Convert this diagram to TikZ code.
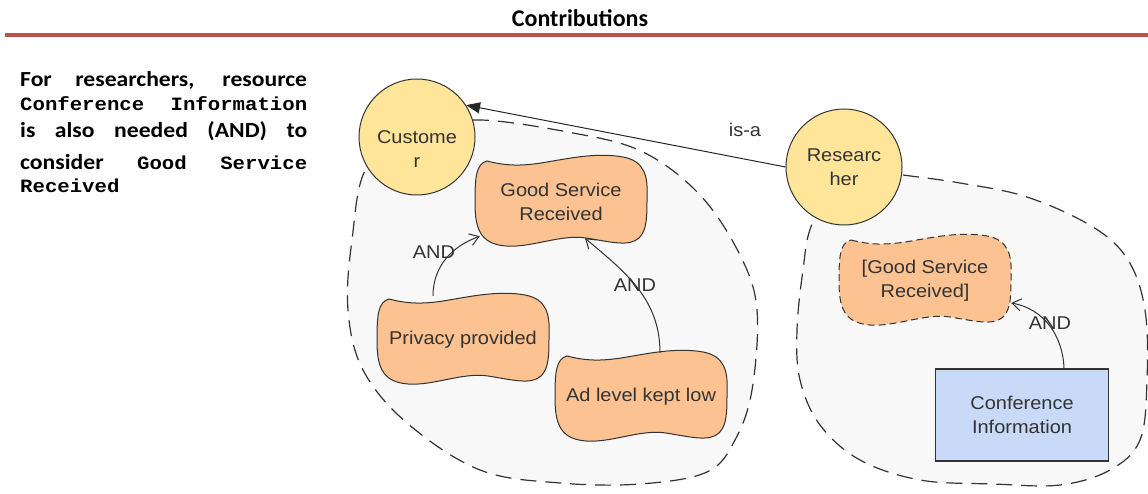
\documentclass[tikz,border=0pt]{standalone}
\usepackage{fontspec}
\setmainfont{Carlito}[FakeStretch=1.1]
\newfontfamily\codefont{Liberation Mono}[FakeStretch=1.1]
\newfontfamily\drawfont{Liberation Sans}[FakeStretch=1.08]
\newfontfamily\titlefont{Carlito}
\usepackage{xcolor}
\usepackage{tikz}
\usetikzlibrary{positioning, arrows.meta, calc}
\definecolor{crule}{HTML}{C0504D}
\definecolor{cregion}{HTML}{F8F8F8}
\definecolor{cactor}{HTML}{FFE599}
\definecolor{csoft}{HTML}{FCC291}
\definecolor{cres}{HTML}{C9DAF8}
\definecolor{cink}{HTML}{333333}
\newcommand{\diagfont}{\drawfont\fontsize{18.5}{24}\selectfont}
\newcommand{\codesmall}{\codefont\fontsize{18.8}{25}\selectfont}
\tikzset{
  region/.style={draw=cink, fill=cregion, dash pattern=on 16pt off 9pt, line width=1.2pt},
  actor/.style={circle, draw=cink, fill=cactor, line width=1pt, minimum size=116pt,
                inner sep=0pt, align=center, font=\diagfont, text=cink},
  goal/.style={minimum width=172pt, minimum height=88pt, inner sep=0pt, align=center,
               font=\diagfont, text=cink},
  resrc/.style={draw=cink, fill=cres, line width=1.5pt, minimum width=173pt,
                minimum height=92pt, align=center, font=\diagfont, text=cink},
  lbl/.style={font=\diagfont, text=cink, inner sep=1pt},
  note/.style={anchor=base west, inner sep=0pt, font=\bfseries\fontsize{21.5}{25}\selectfont},
  andarr/.style={draw=cink, line width=1pt, -{Straight Barb[length=9pt,width=12pt]}},
  isaarr/.style={draw=black!85, line width=1pt, -{Triangle[length=14pt,width=11pt]}},
  softgoal/.pic={
    \path[draw=cink, fill=csoft, line width=1pt, pic actions]
      (-74,-41) .. controls (-55,-36) and (-40,-36) .. (-20,-39)
      .. controls (5,-43) and (35,-50) .. (62,-45)
      .. controls (84,-41) and (87,-25) .. (86,-5)
      .. controls (86,15) and (86,28) .. (78,36)
      .. controls (68,45) and (50,40) .. (25,36)
      .. controls (0,32) and (-30,46) .. (-55,44)
      .. controls (-82,42) and (-86,25) .. (-86,0)
      .. controls (-86,-25) and (-85,-38) .. (-74,-41) -- cycle;
  },
}
\begin{document}
\begin{tikzpicture}[x=1pt, y=-1pt]
  \useasboundingbox (0,0) rectangle (1148,494);
  % ---------- header ----------
  \node[font=\titlefont\bfseries\fontsize{24}{28}\selectfont, anchor=base, inner sep=0pt] (ttl) at (580,27) {Contributions};
  \coordinate (rulel) at (5,35);
  \coordinate (ruler) at (1148,35);
  \draw[crule, line width=4pt] (rulel) -- (ruler);
  % ---------- note ----------
  \node[note] (txa) at (20,87) {\makebox[287pt][s]{For researchers, resource}};
  \node[note] (txb) at (20,111) {\makebox[287pt][s]{\codesmall Conference Information}};
  \node[note] (txc) at (20,138) {\makebox[287pt][s]{is also needed (AND) to}};
  \node[note] (txd) at (20,170) {\makebox[287pt][s]{consider {\codesmall Good} {\codesmall Service}}};
  \node[note] (txe) at (20,193) {\codesmall Received};
  % ---------- boundaries ----------
  \draw[region] plot[smooth cycle, tension=0.6] coordinates {
    (417,138) (473,120) (573,133) (643,152) (700,195) (740,255) (757,310) (752,390)
    (735,440) (707,472) (640,484) (560,483) (480,470) (407,423) (363,370) (348,310)
    (352,240) (367,167)};
  \draw[region] plot[smooth cycle, tension=0.6] coordinates {
    (844,167) (903,175) (960,183) (1027,197) (1093,227) (1128,260) (1145,310) (1147,380)
    (1140,440) (1110,470) (1060,485) (993,484) (920,480) (860,460) (820,425) (800,380)
    (797,330) (803,270) (812,224)};
  % ---------- Customer ----------
  \node[actor, label={[lbl, align=center, yshift=-12pt]center:Custome\\r}] (cus) at (417,137) {};
  \pic at (561,202) {softgoal};
  \node[goal] (gsr) at (561,202) {Good Service\\Received};
  \pic at (463,340) {softgoal};
  \node[goal] (prv) at (463,340) {Privacy provided};
  \pic at (641,397) {softgoal};
  \node[goal] (adl) at (641,397) {Ad level kept low};
  \draw[andarr] ([xshift=-30pt]prv.north) to[out=90, in=200] ([xshift=5pt, yshift=10pt]gsr.south west);
  \node[lbl] (and1) at (434,252) {AND};
  \draw[andarr] ([xshift=19pt]adl.north) to[out=90, in=-40] ([xshift=24pt, yshift=8pt]gsr.south);
  \node[lbl] (and2) at (635,285) {AND};
  % ---------- Researcher ----------
  \node[actor] (res) at (844,167) {Researc\\her};
  \pic[dash pattern=on 7pt off 4pt] at (925,281) {softgoal};
  \node[goal] (gsr2) at (925,281) {[Good Service\\Received]};
  \node[resrc] (cnf) at (1022,415) {Conference\\Information};
  \draw[andarr] ([xshift=42pt]cnf.north) to[out=92, in=-10] ([yshift=-22pt]gsr2.east);
  \node[lbl] (and3) at (1050,323) {AND};
  % ---------- is-a ----------
  \draw[isaarr] (res.west) -- (cus.33);
  \node[lbl] (isa) at (745,130) {is-a};
\end{tikzpicture}
\end{document}
